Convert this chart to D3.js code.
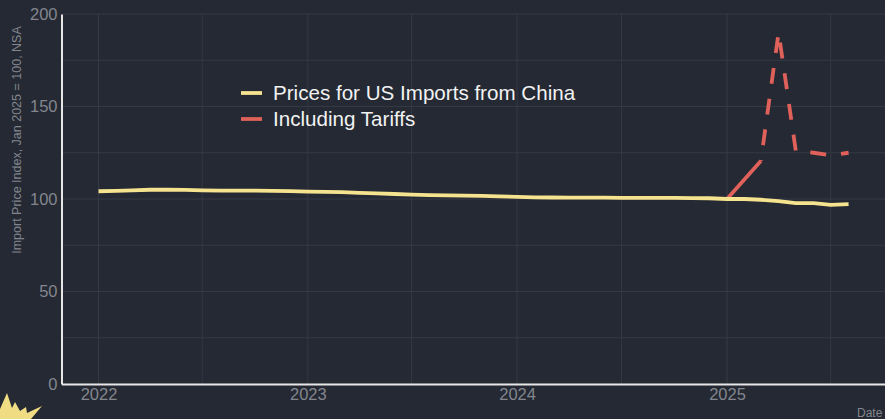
<!DOCTYPE html>
<html>
<head>
<meta charset="utf-8">
<script src="https://cdn.jsdelivr.net/npm/d3@7"></script>
<style>
  html, body { margin: 0; padding: 0; background: #242933; overflow: hidden; }
  svg { display: block; font-family: "Liberation Sans", Arial, sans-serif; }
</style>
</head>
<body>
<svg id="chart" width="885" height="419"></svg>
<script>
// monthly index values
const months = d3.timeMonths(new Date(2022, 0, 1), new Date(2025, 8, 1));
const importPrices = [
  104.2, 104.4, 104.7, 105.0, 105.0, 104.9, 104.7, 104.5, 104.5, 104.5, 104.4, 104.3,
  104.0, 103.9, 103.7, 103.3, 103.0, 102.7, 102.4, 102.1, 102.0, 101.8, 101.7, 101.4,
  101.2, 100.9, 100.8, 100.7, 100.7, 100.7, 100.6, 100.6, 100.6, 100.6, 100.5, 100.4,
  100.0, 100.0, 99.6, 98.9, 97.8, 97.8, 96.8, 97.2
];
const tariffMonths = [new Date(2025, 0, 1), new Date(2025, 2, 1), new Date(2025, 3, 1),
  new Date(2025, 4, 1), new Date(2025, 5, 1), new Date(2025, 6, 1), new Date(2025, 7, 1)];
const tariffPrices = [100, 120.5, 190, 126, 125, 123.6, 125];
const yTicks = [0, 50, 100, 150, 200];
const yMinor = [25, 75, 125, 175];
const xTicks = [2022, 2023, 2024, 2025];
const legendLabels = ["Prices for US Imports from China", "Including Tariffs"];

const colors = { bg: "#242933", grid: "#343a44", axis: "#e6e6e6", tick: "#83868e",
  yellow: "#f6e38f", red: "#e0605a" };

const svg = d3.select("#chart");
const plotLeft = 61.5, plotRight = 885, plotBottom = 384, plotTop = 14;

const base = d3.scaleTime()
  .domain([new Date(2022, 0, 1), new Date(2025, 0, 1)])
  .range([98.5, 727]);
const x = d3.scaleTime()
  .domain([base.invert(plotLeft), base.invert(plotRight)])
  .range([plotLeft, plotRight]);
const y = d3.scaleLinear().domain([0, 200]).range([plotBottom, plotTop]);

// grid
const grid = svg.append("g").attr("stroke", colors.grid).attr("stroke-width", 1);
grid.selectAll(".gy").data(yTicks.concat(yMinor)).enter().append("line")
  .attr("x1", plotLeft).attr("x2", plotRight)
  .attr("y1", d => y(d)).attr("y2", d => y(d));
const gridDates = xTicks.flatMap(yr => [new Date(yr, 0, 1), new Date(yr, 6, 1)]);
grid.selectAll(".gx").data(gridDates).enter().append("line")
  .attr("x1", d => x(d)).attr("x2", d => x(d))
  .attr("y1", plotTop).attr("y2", plotBottom);

// axes
const xAxis = svg.append("g")
  .attr("transform", `translate(0, ${plotBottom})`)
  .call(d3.axisBottom(x)
    .tickValues(xTicks.map(yr => new Date(yr, 0, 1)))
    .tickFormat(d3.timeFormat("%Y"))
    .tickSize(0).tickPadding(4));
const yAxis = svg.append("g")
  .attr("transform", `translate(${plotLeft}, 0)`)
  .call(d3.axisLeft(y).tickValues(yTicks).tickSize(0).tickPadding(4));

[xAxis, yAxis].forEach(a => {
  a.select(".domain").attr("stroke", colors.axis).attr("stroke-width", 2);
  a.selectAll("text").attr("fill", colors.tick).attr("font-size", 16.5)
    .attr("font-family", "'Liberation Sans', Arial, sans-serif");
});

// lines
const line = d3.line().x(d => x(d[0])).y(d => y(d[1]));
const tariffPairs = d3.zip(tariffMonths, tariffPrices);

svg.append("path")
  .datum(tariffPairs.slice(0, 2))
  .attr("d", line).attr("fill", "none")
  .attr("stroke", colors.red).attr("stroke-width", 3.8);
svg.append("path")
  .datum(tariffPairs.slice(1))
  .attr("d", line).attr("fill", "none")
  .attr("stroke", colors.red).attr("stroke-width", 3.8)
  .attr("stroke-dasharray", "16 15").attr("stroke-dashoffset", 15);
svg.append("path")
  .datum(d3.zip(months, importPrices))
  .attr("d", line).attr("fill", "none")
  .attr("stroke", colors.yellow).attr("stroke-width", 3.8);

// axis titles
svg.append("text")
  .attr("transform", "translate(21, 140) rotate(-90)")
  .attr("text-anchor", "middle").attr("fill", colors.tick).attr("font-size", 12.5)
  .text("Import Price Index, Jan 2025 = 100, NSA");
svg.append("text")
  .attr("x", 857).attr("y", 417).attr("fill", colors.tick).attr("font-size", 12)
  .text("Date");

// legend
const legendColors = [colors.yellow, colors.red];
const legend = svg.append("g").selectAll("g").data(legendLabels).enter().append("g")
  .attr("transform", (d, i) => `translate(241, ${93 + i * 26})`);
legend.append("line")
  .attr("x1", 0).attr("x2", 21)
  .attr("stroke", (d, i) => legendColors[i]).attr("stroke-width", 3.8);
legend.append("text")
  .attr("x", 32).attr("dy", "0.35em")
  .attr("fill", "#f2f2f2").attr("font-size", 20.6)
  .text(d => d);

// logo, cut off by the bottom-left corner
const sunRays = [[7, 393], [12, 408], [15, 402], [20, 411], [26, 407], [27, 413], [42, 406], [31, 419], [0, 419], [0, 409]];
svg.append("path")
  .attr("d", d3.line()(sunRays) + "Z")
  .attr("fill", "#f0dc82");
</script>
</body>
</html>
